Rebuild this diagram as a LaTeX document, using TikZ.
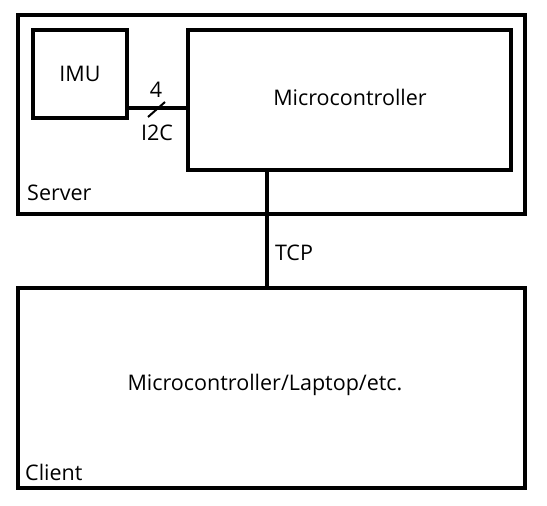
\documentclass[tikz,border=0pt]{standalone}
\usepackage{fontspec}
\setmainfont{Open Sans}
\usetikzlibrary{calc,positioning}
\tikzset{
	-,
	box/.style={draw, line width=4.5pt, rectangle, inner sep=0pt},
	lbl/.style={font=\fontsize{21.5}{24}\selectfont, inner sep=0pt},
	bus/.style={line width=4.5pt},
}

\begin{document}
\begin{tikzpicture}[x=1pt, y=-1pt]
        \useasboundingbox (0,0) rectangle (547,506);
        % boxes
        \node[box, minimum width=507pt, minimum height=199pt] (server) at (271.5,114.5) {};
        \node[box, minimum width=94pt, minimum height=88pt, lbl] (imu) at (80,74) {IMU};
        \node[box, minimum width=323pt, minimum height=140pt, lbl] (micro) at (349.5,100) {};
        \node[lbl] (microtext) at (350,97) {Microcontroller};
        \node[box, minimum width=507pt, minimum height=200pt] (client) at (271.5,388) {};
        \node[lbl] (clienttext) at (265,385) {Microcontroller/Laptop/etc.};
        \node[lbl, anchor=west] (serverlbl) at (27,193) {Server};
        \node[lbl, anchor=west] (clientlbl) at (25,472) {Client};
        % I2C bus
        \coordinate (busL) at ([yshift=-34pt]imu.east);
        \coordinate (busR) at (busL -| micro.west);
        \coordinate (slashA) at (148,117);
        \coordinate (slashB) at (165,102);
        \draw[bus] (busL) -- (busR);
        \draw[line width=2pt] (slashA) -- (slashB);
        \node[lbl] (width) at (156,90) {4};
        \node[lbl] (i2c) at (157,133) {I2C};
        % TCP link
        \coordinate (tcp) at (267,0);
        \draw[bus] (micro.south -| tcp) -- (client.north -| tcp);
        \node[lbl] (tcplbl) at (294,253) {TCP};
    \end{tikzpicture}
\end{document}
